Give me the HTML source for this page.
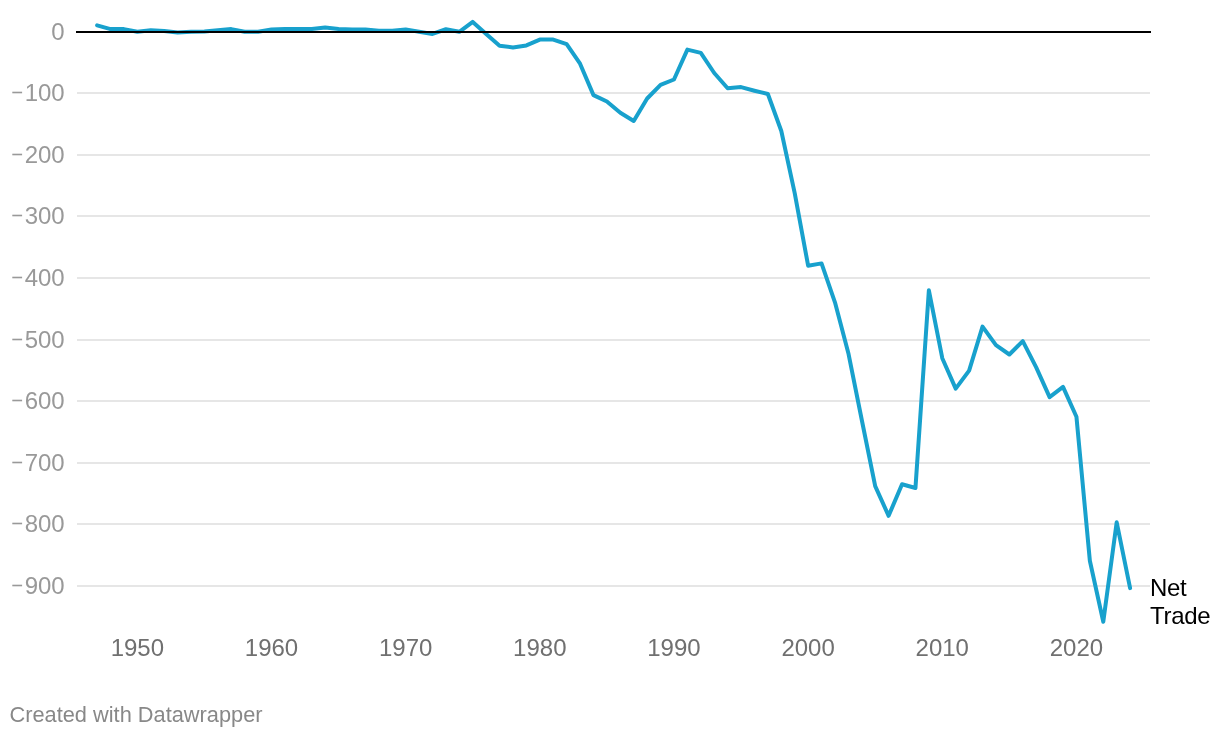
<!DOCTYPE html>
<html><head><meta charset="utf-8"><style>
html,body{margin:0;padding:0;background:#fff;width:1220px;height:738px;overflow:hidden}
svg{display:block;position:absolute;left:0;top:0;will-change:transform}
text{font-family:"Liberation Sans",sans-serif}
</style></head><body>
<svg width="1220" height="738" viewBox="0 0 1220 738">
<g><rect x="77" y="92" width="1073" height="2" fill="#e6e6e6"/><rect x="77" y="154" width="1073" height="2" fill="#e6e6e6"/><rect x="77" y="215" width="1073" height="2" fill="#e6e6e6"/><rect x="77" y="277" width="1073" height="2" fill="#e6e6e6"/><rect x="77" y="339" width="1073" height="2" fill="#e6e6e6"/><rect x="77" y="400" width="1073" height="2" fill="#e6e6e6"/><rect x="77" y="462" width="1073" height="2" fill="#e6e6e6"/><rect x="77" y="523" width="1073" height="2" fill="#e6e6e6"/><rect x="77" y="585" width="1073" height="2" fill="#e6e6e6"/></g>
<polyline points="97.10,25.30 110.52,29.10 123.93,29.10 137.35,31.70 150.76,30.20 164.18,31.10 177.59,32.50 191.01,31.70 204.42,31.50 217.84,30.20 231.26,29.10 244.67,31.70 258.09,31.70 271.50,29.50 284.92,28.90 298.33,29.10 311.75,29.10 325.17,27.50 338.58,28.90 352.00,29.50 365.41,29.50 378.83,30.80 392.24,30.80 405.66,29.40 419.07,31.80 432.49,33.90 445.91,29.25 459.32,31.80 472.74,21.90 486.15,34.00 499.57,45.70 512.98,47.40 526.40,45.40 539.81,39.60 553.23,39.60 566.65,44.10 580.06,63.70 593.48,95.10 606.89,101.50 620.31,112.70 633.72,121.00 647.14,98.50 660.56,84.80 673.97,79.50 687.39,49.60 700.80,52.90 714.22,73.00 727.63,88.30 741.05,87.10 754.46,90.70 767.88,94.00 781.30,131.00 794.71,193.10 808.13,265.70 821.54,263.40 834.96,302.30 848.37,353.20 861.79,420.00 875.20,486.20 888.62,515.80 902.04,484.30 915.45,488.00 928.87,290.30 942.28,358.20 955.70,388.60 969.11,370.60 982.53,326.60 995.95,345.20 1009.36,354.50 1022.78,341.20 1036.19,367.40 1049.61,397.10 1063.02,386.90 1076.44,416.70 1089.85,560.70 1103.27,621.70 1116.69,522.30 1130.10,588.10" fill="none" stroke="#18a1cd" stroke-width="4" stroke-linejoin="round" stroke-linecap="round"/>
<rect x="76" y="31" width="1075" height="2" fill="#000"/>
<g fill="#999999" font-size="24"><text x="64.7" y="39.7" text-anchor="end">0</text><text x="64.7" y="100.7" text-anchor="end">100</text><rect x="12.3" y="91.70" width="9.8" height="1.6"/><text x="64.7" y="162.7" text-anchor="end">200</text><rect x="12.3" y="153.70" width="9.8" height="1.6"/><text x="64.7" y="223.7" text-anchor="end">300</text><rect x="12.3" y="214.70" width="9.8" height="1.6"/><text x="64.7" y="285.7" text-anchor="end">400</text><rect x="12.3" y="276.70" width="9.8" height="1.6"/><text x="64.7" y="347.7" text-anchor="end">500</text><rect x="12.3" y="338.70" width="9.8" height="1.6"/><text x="64.7" y="408.7" text-anchor="end">600</text><rect x="12.3" y="399.70" width="9.8" height="1.6"/><text x="64.7" y="470.7" text-anchor="end">700</text><rect x="12.3" y="461.70" width="9.8" height="1.6"/><text x="64.7" y="531.7" text-anchor="end">800</text><rect x="12.3" y="522.70" width="9.8" height="1.6"/><text x="64.7" y="593.7" text-anchor="end">900</text><rect x="12.3" y="584.70" width="9.8" height="1.6"/></g>
<g fill="#707070" font-size="24"><text x="137.35" y="655.6" text-anchor="middle">1950</text><text x="271.50" y="655.6" text-anchor="middle">1960</text><text x="405.66" y="655.6" text-anchor="middle">1970</text><text x="539.81" y="655.6" text-anchor="middle">1980</text><text x="673.97" y="655.6" text-anchor="middle">1990</text><text x="808.13" y="655.6" text-anchor="middle">2000</text><text x="942.28" y="655.6" text-anchor="middle">2010</text><text x="1076.44" y="655.6" text-anchor="middle">2020</text></g>
<g fill="#000" font-size="24" letter-spacing="-0.3"><text x="1150" y="596">Net</text><text x="1150" y="623.7">Trade</text></g>
<text x="9.5" y="722" fill="#888888" font-size="22" textLength="253" lengthAdjust="spacingAndGlyphs">Created with Datawrapper</text>
</svg>
</body></html>
